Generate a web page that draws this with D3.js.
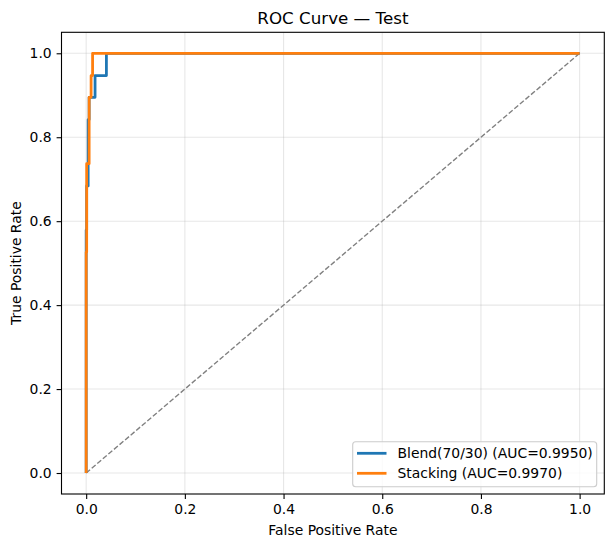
<!DOCTYPE html>
<html><head><meta charset="utf-8">
<script src="https://cdn.jsdelivr.net/npm/d3@7"></script>
<style>body{margin:0;background:#fff}svg{display:block;font-family:"DejaVu Sans",sans-serif}</style>
</head><body>
<script>
const xTicks = [0, 0.2, 0.4, 0.6, 0.8, 1.0];
const yTicks = [0, 0.2, 0.4, 0.6, 0.8, 1.0];
const blendFpr = [0, 0, 0.001, 0.001, 0.004, 0.004, 0.006, 0.006, 0.018, 0.018, 0.041, 0.041, 1];
const blendTpr = [0, 0.579, 0.579, 0.684, 0.684, 0.842, 0.842, 0.895, 0.895, 0.947, 0.947, 1, 1];
const stackFpr = [0, 0, 0.001, 0.001, 0.006, 0.006, 0.010, 0.010, 0.013, 0.013, 1];
const stackTpr = [0, 0.526, 0.526, 0.737, 0.737, 0.895, 0.895, 0.947, 0.947, 1, 1];
const seriesNames = ["Blend(70/30) (AUC=0.9950)", "Stacking (AUC=0.9970)"];
const colors = ["#1f77b4", "#ff7f0e"];

const W = 613, H = 547;
const m = {left: 61.5, right: 604.3, top: 32.3, bottom: 494};
const svg = d3.select("body").append("svg").attr("width", W).attr("height", H);
const x = d3.scaleLinear().domain([-0.05, 1.05]).range([m.left, m.right]);
const y = d3.scaleLinear().domain([-0.05, 1.05]).range([m.bottom, m.top]);

// grid
const g = svg.append("g");
g.selectAll(".gx").data(xTicks).enter().append("line")
  .attr("x1", d => x(d)).attr("x2", d => x(d)).attr("y1", m.top).attr("y2", m.bottom)
  .attr("stroke", "#b0b0b0").attr("stroke-opacity", 0.3).attr("stroke-width", 1.1);
g.selectAll(".gy").data(yTicks).enter().append("line")
  .attr("y1", d => y(d)).attr("y2", d => y(d)).attr("x1", m.left).attr("x2", m.right)
  .attr("stroke", "#b0b0b0").attr("stroke-opacity", 0.3).attr("stroke-width", 1.1);

// diagonal
svg.append("path").attr("d", d3.line()([[x(0), y(0)], [x(1), y(1)]]))
  .attr("stroke", "gray").attr("stroke-width", 1.39).attr("stroke-dasharray", "5.1,2.2").attr("fill", "none");

const line = d3.line().x(d => x(d[0])).y(d => y(d[1]));
const series = [d3.zip(blendFpr, blendTpr), d3.zip(stackFpr, stackTpr)];
series.forEach((s, i) => {
  svg.append("path").attr("d", line(s)).attr("fill", "none")
    .attr("stroke", colors[i]).attr("stroke-width", 2.78).attr("stroke-linejoin", "round").attr("stroke-linecap", "butt");
});

// axes
const xa = svg.append("g").attr("transform", `translate(0,${m.bottom})`)
  .call(d3.axisBottom(x).tickValues(xTicks).tickFormat(d3.format(".1f")).tickSizeOuter(0).tickSize(4.9).tickPadding(4.9));
const ya = svg.append("g").attr("transform", `translate(${m.left},0)`)
  .call(d3.axisLeft(y).tickValues(yTicks).tickFormat(d3.format(".1f")).tickSizeOuter(0).tickSize(4.9).tickPadding(4.9));
[xa, ya].forEach(a => {
  a.select(".domain").remove();
  a.selectAll("text").attr("font-size", 13.9).attr("fill", "#000").attr("font-family", "DejaVu Sans");
  a.selectAll("line").attr("stroke", "#000").attr("stroke-width", 1.1);
});
svg.append("rect").attr("x", m.left).attr("y", m.top).attr("width", m.right - m.left).attr("height", m.bottom - m.top)
  .attr("fill", "none").attr("stroke", "#000").attr("stroke-width", 1.1);

// labels
svg.append("text").attr("x", (m.left + m.right) / 2).attr("y", 24).attr("text-anchor", "middle")
  .attr("font-size", 16.7).text("ROC Curve — Test");
svg.append("text").attr("x", (m.left + m.right) / 2).attr("y", 535).attr("text-anchor", "middle")
  .attr("font-size", 13.9).text("False Positive Rate");
svg.append("text").attr("transform", `translate(21,${(m.top + m.bottom) / 2}) rotate(-90)`).attr("text-anchor", "middle")
  .attr("font-size", 13.9).text("True Positive Rate");

// legend
const lg = svg.append("g");
lg.append("rect").attr("x", 352.7).attr("y", 441.7).attr("width", 244).attr("height", 45).attr("rx", 3)
  .attr("fill", "#fff").attr("fill-opacity", 0.8).attr("stroke", "#ccc").attr("stroke-width", 1.1);
seriesNames.forEach((n, i) => {
  const cy = 453.3 + i * 20;
  lg.append("line").attr("x1", 357).attr("x2", 386.5).attr("y1", cy).attr("y2", cy)
    .attr("stroke", colors[i]).attr("stroke-width", 2.78);
  lg.append("text").attr("x", 397.5).attr("y", cy + 5).attr("font-size", 13.9).text(n);
});
</script>
</body></html>
